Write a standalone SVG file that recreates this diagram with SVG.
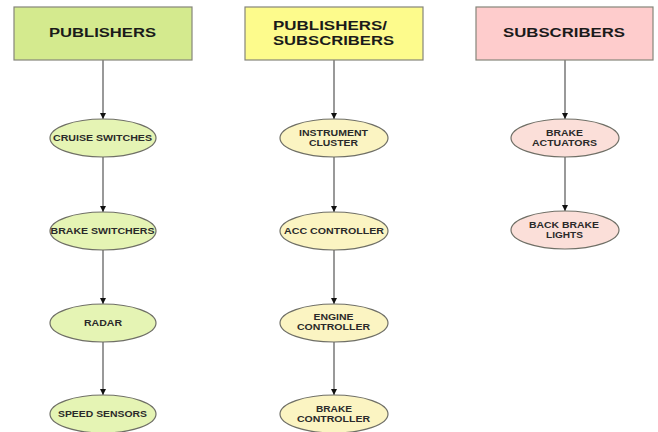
<svg xmlns="http://www.w3.org/2000/svg" width="658" height="432" viewBox="0 0 658 432">
  <defs>
    <marker id="arrow" viewBox="0 0 10 10" refX="10" refY="5" markerWidth="7" markerHeight="6" markerUnits="userSpaceOnUse" orient="auto">
      <path d="M0,0 L10,5 L0,10 z" fill="#111"/>
    </marker>
    <style>
      .hdr { stroke: #85857a; stroke-width: 1.2; }
      .node { stroke: #6f6f66; stroke-width: 1.2; }
      .pub-box { fill: #d4ea8e; }
      .ps-box { fill: #fdfb8c; }
      .sub-box { fill: #fecccc; }
      .pub-node { fill: #e5f4b4; }
      .ps-node { fill: #fbf4c2; }
      .sub-node { fill: #fbdfd9; }
      .htext { font-family: "Liberation Sans", Arial, sans-serif; font-weight: bold; font-size: 13.5px; fill: #1a1a1a; text-anchor: middle; }
      .ntext { font-family: "Liberation Sans", Arial, sans-serif; font-weight: bold; font-size: 8.8px; fill: #2a2a2a; text-anchor: middle; }
      .edge { stroke: #777; stroke-width: 1.5; fill: none; marker-end: url(#arrow); }
    </style>
  </defs>
  <rect width="658" height="432" fill="#ffffff"/>

  <!-- connectors -->
  <g id="connectors">
    <line class="edge" x1="103" y1="60" x2="103" y2="119"/>
    <line class="edge" x1="103" y1="157" x2="103" y2="212"/>
    <line class="edge" x1="103" y1="250" x2="103" y2="304"/>
    <line class="edge" x1="103" y1="342" x2="103" y2="395"/>
    <line class="edge" x1="334" y1="60" x2="334" y2="119"/>
    <line class="edge" x1="334" y1="157" x2="334" y2="212"/>
    <line class="edge" x1="334" y1="250" x2="334" y2="304"/>
    <line class="edge" x1="334" y1="342" x2="334" y2="395"/>
    <line class="edge" x1="565" y1="60" x2="565" y2="119"/>
    <line class="edge" x1="565" y1="157" x2="565" y2="211"/>
  </g>

  <!-- column headers -->
  <g id="publishers">
    <rect class="hdr pub-box" x="14" y="7" width="178" height="53"/>
    <text class="htext" x="102.5" y="37" textLength="107" lengthAdjust="spacingAndGlyphs">PUBLISHERS</text>
  </g>
  <g id="publishers-subscribers">
    <rect class="hdr ps-box" x="245" y="7" width="178" height="53"/>
    <text class="htext" x="330" y="30" textLength="114" lengthAdjust="spacingAndGlyphs">PUBLISHERS/</text>
    <text class="htext" x="333.5" y="45" textLength="121" lengthAdjust="spacingAndGlyphs">SUBSCRIBERS</text>
  </g>
  <g id="subscribers">
    <rect class="hdr sub-box" x="476" y="7" width="177" height="53"/>
    <text class="htext" x="564" y="37" textLength="122" lengthAdjust="spacingAndGlyphs">SUBSCRIBERS</text>
  </g>

  <!-- publishers column -->
  <g id="cruise-switches">
    <ellipse class="node pub-node" cx="103" cy="138" rx="53" ry="19"/>
    <text class="ntext" x="102.5" y="141" textLength="99" lengthAdjust="spacingAndGlyphs">CRUISE SWITCHES</text>
  </g>
  <g id="brake-switchers">
    <ellipse class="node pub-node" cx="103" cy="231" rx="53" ry="19"/>
    <text class="ntext" x="102.5" y="234" textLength="104" lengthAdjust="spacingAndGlyphs">BRAKE SWITCHERS</text>
  </g>
  <g id="radar">
    <ellipse class="node pub-node" cx="103" cy="323" rx="53" ry="19"/>
    <text class="ntext" x="103" y="326" textLength="38" lengthAdjust="spacingAndGlyphs">RADAR</text>
  </g>
  <g id="speed-sensors">
    <ellipse class="node pub-node" cx="103" cy="414" rx="53" ry="19"/>
    <text class="ntext" x="102.5" y="417" textLength="89" lengthAdjust="spacingAndGlyphs">SPEED SENSORS</text>
  </g>

  <!-- publishers/subscribers column -->
  <g id="instrument-cluster">
    <ellipse class="node ps-node" cx="334" cy="138" rx="54" ry="19"/>
    <text class="ntext" x="333.5" y="136" textLength="69" lengthAdjust="spacingAndGlyphs">INSTRUMENT</text>
    <text class="ntext" x="333.5" y="146" textLength="49" lengthAdjust="spacingAndGlyphs">CLUSTER</text>
  </g>
  <g id="acc-controller">
    <ellipse class="node ps-node" cx="334" cy="231" rx="54" ry="19"/>
    <text class="ntext" x="334" y="234" textLength="100" lengthAdjust="spacingAndGlyphs">ACC CONTROLLER</text>
  </g>
  <g id="engine-controller">
    <ellipse class="node ps-node" cx="334" cy="323" rx="54" ry="19"/>
    <text class="ntext" x="333.5" y="320" textLength="40" lengthAdjust="spacingAndGlyphs">ENGINE</text>
    <text class="ntext" x="333.5" y="330" textLength="73" lengthAdjust="spacingAndGlyphs">CONTROLLER</text>
  </g>
  <g id="brake-controller">
    <ellipse class="node ps-node" cx="334" cy="414" rx="54" ry="19"/>
    <text class="ntext" x="334" y="412" textLength="36" lengthAdjust="spacingAndGlyphs">BRAKE</text>
    <text class="ntext" x="333.5" y="422" textLength="73" lengthAdjust="spacingAndGlyphs">CONTROLLER</text>
  </g>

  <!-- subscribers column -->
  <g id="brake-actuators">
    <ellipse class="node sub-node" cx="565" cy="138" rx="54" ry="19"/>
    <text class="ntext" x="564.5" y="136" textLength="37" lengthAdjust="spacingAndGlyphs">BRAKE</text>
    <text class="ntext" x="564.5" y="146" textLength="65" lengthAdjust="spacingAndGlyphs">ACTUATORS</text>
  </g>
  <g id="back-brake-lights">
    <ellipse class="node sub-node" cx="565" cy="230" rx="54" ry="19"/>
    <text class="ntext" x="564" y="228" textLength="70" lengthAdjust="spacingAndGlyphs">BACK BRAKE</text>
    <text class="ntext" x="564.5" y="238" textLength="37" lengthAdjust="spacingAndGlyphs">LIGHTS</text>
  </g>
</svg>
